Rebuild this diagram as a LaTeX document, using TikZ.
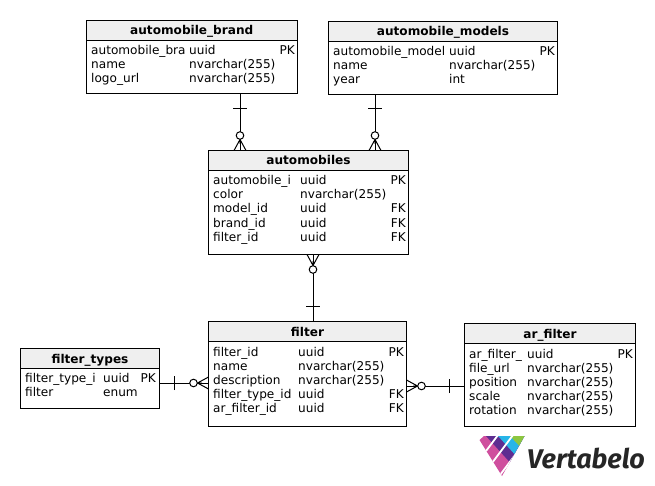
\documentclass[tikz,border=0pt]{standalone}
\usepackage{fontspec}
\setmainfont{DejaVu Sans}
\newfontfamily\logofont{Fira Sans}
\usetikzlibrary{calc}
\definecolor{hdr}{HTML}{EFEFEF}
\definecolor{lgpink}{HTML}{CF4F9E}
\definecolor{lgpurple}{HTML}{5E2D91}
\definecolor{lgblue}{HTML}{27B5E8}
\definecolor{lggreen}{HTML}{8DC63F}
\tikzset{
  tablebox/.style={draw=black,fill=white,line width=1pt,inner sep=0pt,outer sep=0pt,rectangle},
  headbox/.style={draw=black,fill=hdr,line width=1pt,inner sep=0pt,outer sep=0pt,rectangle},
  titletext/.style={font=\fontsize{12.1}{13}\selectfont\bfseries,inner sep=0pt,anchor=base},
  rowtext/.style={font=\fontsize{12.1}{13}\selectfont,inner sep=0pt,anchor=base west},
  keytext/.style={font=\fontsize{12.1}{13}\selectfont,inner sep=0pt,anchor=base east},
  rel/.style={line width=1pt,draw=black},
}
% name, x1, y1, x2, y2, header bottom y, title baseline y, title
\newcommand{\erdtable}[8]{%
  \node[tablebox,minimum width=#4pt-#2pt,minimum height=#5pt-#3pt] (#1) at ({(#2+#4)/2},{(#3+#5)/2}) {};
  \node[headbox,minimum width=#4pt-#2pt,minimum height=#6pt-#3pt] (#1head) at ({(#2+#4)/2},{(#3+#6)/2}) {};
  \node[titletext] (#1title) at ({(#2+#4)/2},#7) {#8};
}
\newcount\rowno
% table-independent row: x1, x2, x3, baseline y, name, type, key
\newcommand{\erdrow}[7]{%
  \global\advance\rowno by 1
  \node[rowtext] (n\the\rowno) at (#1,#4) {#5};
  \node[rowtext] (t\the\rowno) at (#2,#4) {#6};
  \node[keytext] (k\the\rowno) at (#3,#4) {#7};
}
\newcommand{\erdtick}[2]{\draw[rel,shift={(#1)},rotate=#2] (-7,0) -- (7,0);}
% crow's foot whose surface point is #1; local x runs away from the table
\newcommand{\erdcrow}[2]{%
  \begin{scope}[shift={(#1)},rotate=#2]
    \draw[rel] (6.5,0) -- (11,0) (0,-6) -- (11,0) -- (0,6);
    \draw[rel,fill=white] (15,0) circle (3.8);
  \end{scope}
}
\begin{document}
\begin{tikzpicture}[x=1pt,y=-1pt]
\useasboundingbox (0,0) rectangle (655,486);
\fill[white] (0,0) rectangle (655,486);

\coordinate (xa) at (240,0);
\coordinate (xb) at (375,0);
\coordinate (xc) at (313,0);
\coordinate (yd) at (0,383);
\coordinate (ye) at (0,386);

\erdtable{brand}{86}{20.5}{297.5}{93.5}{40.5}{35}{automobile\_brand}
\erdrow{91}{189}{295}{55}{automobile\_bra}{uuid}{PK}
\erdrow{91}{189}{295}{69}{name}{nvarchar(255)}{}
\erdrow{91}{189}{295}{83}{logo\_url}{nvarchar(255)}{}

\erdtable{models}{328.5}{21.5}{557.5}{94.5}{41.5}{36}{automobile\_models}
\erdrow{333}{449}{555}{56}{automobile\_model}{uuid}{PK}
\erdrow{333}{449}{555}{70}{name}{nvarchar(255)}{}
\erdrow{333}{449}{555}{84}{year}{int}{}

\erdtable{autos}{208.5}{150.5}{408.5}{254.5}{170.5}{165}{automobiles}
\erdrow{213}{300}{406}{185}{automobile\_i}{uuid}{PK}
\erdrow{213}{300}{406}{199}{color}{nvarchar(255)}{}
\erdrow{213}{300}{406}{213}{model\_id}{uuid}{FK}
\erdrow{213}{300}{406}{227}{brand\_id}{uuid}{FK}
\erdrow{213}{300}{406}{241}{filter\_id}{uuid}{FK}

\erdtable{filter}{208.5}{321.5}{406.5}{426.5}{341.5}{336}{filter}
\erdrow{213}{298}{404}{356}{filter\_id}{uuid}{PK}
\erdrow{213}{298}{404}{370}{name}{nvarchar(255)}{}
\erdrow{213}{298}{404}{384}{description}{nvarchar(255)}{}
\erdrow{213}{298}{404}{398}{filter\_type\_id}{uuid}{FK}
\erdrow{213}{298}{404}{412}{ar\_filter\_id}{uuid}{FK}

\erdtable{types}{20.5}{348.5}{159.5}{408.5}{368.5}{363}{filter\_types}
\erdrow{25}{103}{156}{382}{filter\_type\_i}{uuid}{PK}
\erdrow{25}{103}{156}{396}{filter}{enum}{}

\erdtable{arf}{464.5}{323.5}{635.5}{426.5}{343.5}{338}{ar\_filter}
\erdrow{469}{527}{633}{358}{ar\_filter\_}{uuid}{PK}
\erdrow{469}{527}{633}{372}{file\_url}{nvarchar(255)}{}
\erdrow{469}{527}{633}{386}{position}{nvarchar(255)}{}
\erdrow{469}{527}{633}{400}{scale}{nvarchar(255)}{}
\erdrow{469}{527}{633}{414}{rotation}{nvarchar(255)}{}

% connectors
\draw[rel] (brand.south -| xa) -- (autos.north -| xa);
\erdtick{$(brand.south -| xa)+(0,15)$}{0}
\erdcrow{autos.north -| xa}{90}

\draw[rel] (models.south -| xb) -- (autos.north -| xb);
\erdtick{$(models.south -| xb)+(0,14)$}{0}
\erdcrow{autos.north -| xb}{90}

\draw[rel] (autos.south -| xc) -- (filter.north -| xc);
\erdtick{$(filter.north -| xc)+(0,-15)$}{0}
\erdcrow{autos.south -| xc}{-90}

\draw[rel] (types.east |- yd) -- (filter.west |- yd);
\erdtick{$(types.east |- yd)+(15,0)$}{90}
\erdcrow{filter.west |- yd}{180}

\draw[rel] (filter.east |- ye) -- (arf.west |- ye);
\erdtick{$(arf.west |- ye)+(-15,0)$}{90}
\erdcrow{filter.east |- ye}{0}

% logo
\begin{scope}
  \clip (479.5,440) -- (484,436) -- (524.5,436) -- (502,476) -- cycle;
  \fill[lgpink] (475,430) rectangle (530,480);
  \fill[lgpurple] (486,436) -- (534,489) -- (540,430) -- (480,430) -- cycle;
  \fill[lgblue] (498,436) -- (538,480) -- (540,430) -- (492,430) -- cycle;
  \fill[lggreen] (510,436) -- (526,453) -- (540,430) -- (505,430) -- cycle;
  \draw[white,line width=1.8pt] (498,435) -- (480,459);
  \draw[white,line width=1.8pt] (513,435) -- (486,471);
  \draw[white,line width=1.8pt] (527,439) -- (497,479);
\end{scope}
\node[font=\logofont\fontsize{27}{30}\selectfont\itshape\bfseries,text=black!85,inner sep=0pt,anchor=base west] (logotext) at (527,468) {Vertabelo};
\end{tikzpicture}
\end{document}
